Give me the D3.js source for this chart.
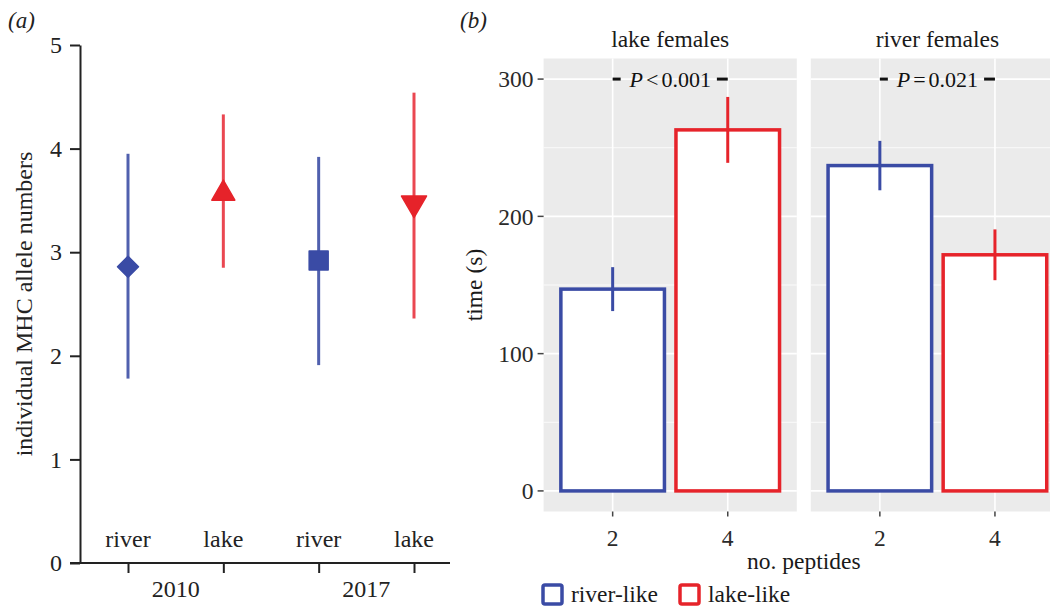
<!DOCTYPE html>
<html><head><meta charset="utf-8">
<script src="https://cdn.jsdelivr.net/npm/d3@7"></script>
<style>
body{margin:0;background:#fff}
svg{display:block}
text{font-family:"Liberation Serif","Times New Roman",serif;}
</style>
</head><body>
<svg id="c" width="1050" height="607"></svg>
<script>
// ---------- Panel (a) data ----------
const groupsA = ["river","lake","river","lake"];
const yearsA = ["2010","2017"];
const meanA = [2.86, 3.57, 2.92, 3.47];
const lowA  = [1.78, 2.85, 1.91, 2.36];
const highA = [3.95, 4.33, 3.92, 4.54];
const shapesA = ["diamond","triangle-up","square","triangle-down"];
const yTicksA = [0,1,2,3,4,5];

// ---------- Panel (b) data ----------
const facetsB = ["lake females","river females"];
const peptidesB = ["2","4"];
const timeLakeF = [147, 263];   // lake females: river-like (2), lake-like (4)
const errLakeF  = [16, 24];
const timeRiverF = [237, 172];  // river females
const errRiverF  = [18, 18.5];
const pOpsB = ["<", "="];
const pValsB = ["0.001", "0.021"];
const pLevelB = 300;
const yTicksB = [0,100,200,300];
const yMinorB = [50,150,250];
const legendB = ["river-like","lake-like"];

const BLUE = "#3a4ba5", RED = "#e6232a";
const BLUE_L = "#5060ae", RED_L = "#ea4751";
const FS = 23.5;
const svg = d3.select("#c");

// ================= Panel (a) =================
const gA = svg.append("g");
const yA = d3.scaleLinear().domain([0,5]).range([563,45]);
const xA = d3.scalePoint().domain(d3.range(groupsA.length)).range([128,414]);

gA.append("text").attr("x",8).attr("y",28).attr("font-size",23).attr("font-style","italic").attr("fill","#222").text("(a)");

// y axis
const axA = gA.append("g").attr("transform","translate(80,0)")
  .call(d3.axisLeft(yA).tickValues(yTicksA).tickSize(10).tickSizeOuter(0).tickPadding(8).tickFormat(d3.format("d")));
axA.select(".domain").attr("stroke","#222").attr("stroke-width",2);
axA.selectAll(".tick line").attr("stroke","#222").attr("stroke-width",2);
axA.selectAll(".tick text").attr("font-size",24).attr("fill","#222").attr("font-family","Liberation Serif");

// x axis line & ticks
gA.append("line").attr("x1",70).attr("x2",450).attr("y1",yA(0)).attr("y2",yA(0)).attr("stroke","#222").attr("stroke-width",2);
const axXA = gA.append("g").attr("transform",`translate(0,${yA(0)})`)
  .call(d3.axisBottom(xA).tickSize(10).tickSizeOuter(0).tickFormat(""));
axXA.select(".domain").remove();
axXA.selectAll(".tick line").attr("stroke","#222").attr("stroke-width",2);

// group labels
gA.selectAll(".glab").data(groupsA).join("text")
  .attr("x",(d,i)=>xA(i)).attr("y",547).attr("text-anchor","middle")
  .attr("font-size",24).attr("fill","#222").text(d=>d);
// year labels
gA.selectAll(".ylab").data(yearsA).join("text")
  .attr("x",(d,i)=>(xA(2*i)+xA(2*i+1))/2).attr("y",597).attr("text-anchor","middle")
  .attr("font-size",24).attr("fill","#222").text(d=>d);

// y title
gA.append("text").attr("transform",`translate(32,${(yA(0)+yA(5))/2}) rotate(-90)`)
  .attr("text-anchor","middle").attr("font-size",24).attr("fill","#222").text("individual MHC allele numbers");

// error lines
gA.selectAll(".err").data(meanA).join("line")
  .attr("x1",(d,i)=>xA(i)).attr("x2",(d,i)=>xA(i))
  .attr("y1",(d,i)=>yA(lowA[i])).attr("y2",(d,i)=>yA(highA[i]))
  .attr("stroke",(d,i)=>groupsA[i]==="river"?BLUE_L:RED_L).attr("stroke-width",3);

function shapePath(s){
  if(s==="diamond") return "M0,-10.5L10.5,0L0,10.5L-10.5,0Z";
  if(s==="square") return "M-9.5,-9.5H9.5V9.5H-9.5Z";
  if(s==="triangle-up") return "M0,-13L11.5,7L-11.5,7Z";
  if(s==="triangle-down") return "M0,14L12.5,-7.5L-12.5,-7.5Z";
}
gA.selectAll(".mk").data(meanA).join("path")
  .attr("transform",(d,i)=>`translate(${xA(i)},${yA(d)})`)
  .attr("d",(d,i)=>shapePath(shapesA[i]))
  .attr("fill",(d,i)=>groupsA[i]==="river"?BLUE:RED)
  .attr("stroke",(d,i)=>groupsA[i]==="river"?BLUE:RED).attr("stroke-width",1.5).attr("stroke-linejoin","round");

// ================= Panel (b) =================
const gB = svg.append("g");
gB.append("text").attr("x",460).attr("y",28).attr("font-size",23).attr("font-style","italic").attr("fill","#222").text("(b)");

const yB = d3.scaleLinear().domain([-15,315]).range([511.5,58.5]);
const panelW = 253.2, panelX0 = 543.6, panelGap = 267.2;
const valsB = [timeLakeF, timeRiverF];
const errsB = [errLakeF, errRiverF];
const colB = [BLUE, RED];

facetsB.forEach((f,fi)=>{
  const x0 = panelX0 + fi*panelGap;
  const xB = d3.scaleBand().domain(peptidesB).range([x0, x0+panelW]).paddingInner(0.1).paddingOuter(0.15);
  const g = gB.append("g");
  g.append("rect").attr("x",x0).attr("y",yB(315)).attr("width",panelW).attr("height",yB(-15)-yB(315)).attr("fill","#ebebeb");
  g.selectAll(".mn").data(yMinorB).join("line")
    .attr("x1",x0).attr("x2",x0+panelW).attr("y1",d=>yB(d)).attr("y2",d=>yB(d)).attr("stroke","#fff").attr("stroke-width",0.8);
  g.selectAll(".mj").data(yTicksB).join("line")
    .attr("x1",x0).attr("x2",x0+panelW).attr("y1",d=>yB(d)).attr("y2",d=>yB(d)).attr("stroke","#fff").attr("stroke-width",1.6);
  g.selectAll(".vx").data(peptidesB).join("line")
    .attr("x1",d=>xB(d)+xB.bandwidth()/2).attr("x2",d=>xB(d)+xB.bandwidth()/2)
    .attr("y1",yB(315)).attr("y2",yB(-15)).attr("stroke","#fff").attr("stroke-width",1.6);
  // bars
  g.selectAll(".bar").data(peptidesB).join("rect")
    .attr("x",d=>xB(d)).attr("width",xB.bandwidth())
    .attr("y",(d,i)=>yB(valsB[fi][i])).attr("height",(d,i)=>yB(0)-yB(valsB[fi][i]))
    .attr("fill","#fff").attr("stroke",(d,i)=>colB[i]).attr("stroke-width",3.5);
  // error bars
  g.selectAll(".eb").data(peptidesB).join("line")
    .attr("x1",d=>xB(d)+xB.bandwidth()/2).attr("x2",d=>xB(d)+xB.bandwidth()/2)
    .attr("y1",(d,i)=>yB(valsB[fi][i]-errsB[fi][i])).attr("y2",(d,i)=>yB(valsB[fi][i]+errsB[fi][i]))
    .attr("stroke",(d,i)=>colB[i]).attr("stroke-width",3);
  // significance
  const c1 = xB(peptidesB[0])+xB.bandwidth()/2, c2 = xB(peptidesB[1])+xB.bandwidth()/2;
  const t = g.append("text").attr("x",(c1+c2)/2).attr("y",yB(pLevelB)).attr("dy","0.35em")
    .attr("text-anchor","middle").attr("font-size",22).attr("fill","#111");
  t.append("tspan").attr("font-style","italic").text("P");
  t.append("tspan").attr("dx",3).text(pOpsB[fi]);
  t.append("tspan").attr("dx",3).text(pValsB[fi]);
  const bb = t.node().getBBox();
  g.append("line").attr("x1",c1).attr("x2",Math.max(c1+8,bb.x-8)).attr("y1",yB(pLevelB)).attr("y2",yB(pLevelB)).attr("stroke","#111").attr("stroke-width",3);
  g.append("line").attr("x1",Math.min(c2-8,bb.x+bb.width+6)).attr("x2",c2).attr("y1",yB(pLevelB)).attr("y2",yB(pLevelB)).attr("stroke","#111").attr("stroke-width",3);
  // x ticks
  g.selectAll(".xt").data(peptidesB).join("line")
    .attr("x1",d=>xB(d)+xB.bandwidth()/2).attr("x2",d=>xB(d)+xB.bandwidth()/2)
    .attr("y1",yB(-15)).attr("y2",yB(-15)+5).attr("stroke","#444").attr("stroke-width",1.5);
  g.selectAll(".xl").data(peptidesB).join("text")
    .attr("x",d=>xB(d)+xB.bandwidth()/2).attr("y",546).attr("text-anchor","middle")
    .attr("font-size",FS).attr("fill","#2a2a2a").text(d=>d);
  // facet title
  g.append("text").attr("x",x0+panelW/2).attr("y",47).attr("text-anchor","middle")
    .attr("font-size",FS).attr("fill","#1a1a1a").text(f);
});

// y axis (b)
gB.selectAll(".yt").data(yTicksB).join("line")
  .attr("x1",panelX0-6).attr("x2",panelX0).attr("y1",d=>yB(d)).attr("y2",d=>yB(d)).attr("stroke","#444").attr("stroke-width",1.5);
gB.selectAll(".yl").data(yTicksB).join("text")
  .attr("x",panelX0-10).attr("y",d=>yB(d)).attr("dy","0.35em").attr("text-anchor","end")
  .attr("font-size",FS).attr("fill","#2a2a2a").text(d=>d);
gB.append("text").attr("transform",`translate(482,${(yB(-15)+yB(315))/2}) rotate(-90)`)
  .attr("text-anchor","middle").attr("font-size",FS).attr("fill","#1a1a1a").text("time (s)");
gB.append("text").attr("x",panelX0+(panelGap+panelW)/2).attr("y",569).attr("text-anchor","middle")
  .attr("font-size",FS).attr("fill","#1a1a1a").text("no. peptides");

// legend
const lg = gB.append("g");
const legX = [543, 680], legTX = [571, 708];
lg.selectAll(".lb").data(legendB).join("rect")
  .attr("x",(d,i)=>legX[i]).attr("y",585).attr("width",19).attr("height",19).attr("rx",2)
  .attr("fill","#fff").attr("stroke",(d,i)=>colB[i]).attr("stroke-width",3.5);
lg.selectAll(".lt").data(legendB).join("text")
  .attr("x",(d,i)=>legTX[i]).attr("y",602).attr("font-size",FS).attr("fill","#1a1a1a").text(d=>d);
</script>
</body></html>
